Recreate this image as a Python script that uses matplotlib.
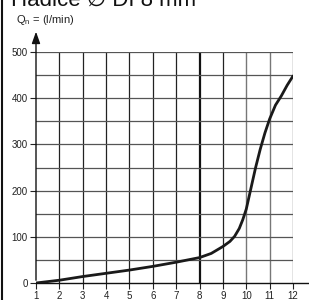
import numpy as np
import matplotlib
matplotlib.use('Agg')
import matplotlib.pyplot as plt

# values
pressure = [1, 2, 3, 4, 5, 6, 7, 8, 8.5, 9, 9.3, 9.5, 9.7, 9.85, 10, 10.2, 10.4, 10.6, 10.8, 11, 11.25, 11.5, 11.75, 12]
flow = [0, 6, 14, 21, 28, 36, 45, 55, 64, 79, 90, 101, 118, 137, 160, 205, 250, 290, 325, 355, 385, 405, 428, 448]
x_ticks = list(range(1, 13))
y_ticks = [0, 100, 200, 300, 400, 500]
title = 'Hadice \u2205 DI 8 mm'
y_label = 'Q$_\\mathregular{n}$ = (l/min)'

plt.rcParams['font.family'] = ['Liberation Sans', 'DejaVu Sans']

fig = plt.figure(figsize=(3.09, 3.0), dpi=100)
ax = fig.add_axes([36 / 309, 1 - 283 / 300, 257 / 309, 231 / 300])
ax.set_xlim(1, 12)
ax.set_ylim(0, 500)

# grid
for x in x_ticks[1:]:
    if x == 8:
        ax.axvline(x, color='#111111', lw=1.6, zorder=1)
    elif x >= 10:
        ax.axvline(x, color='#777777', lw=1.0, zorder=1)
    else:
        ax.axvline(x, color='#222222', lw=0.9, zorder=1)
for y in range(50, 501, 50):
    ax.axhline(y, color='#555555', lw=0.9, zorder=1)

ax.plot(pressure, flow, color='#1a1a1a', lw=2.0, solid_capstyle='round', zorder=3)

for s in ['top', 'right', 'bottom', 'left']:
    ax.spines[s].set_visible(False)

ax.set_xticks(x_ticks)
ax.set_yticks(y_ticks)
ax.tick_params(axis='both', labelsize=7, colors='#222222', length=4, width=0.8, pad=2)

# axes lines: x axis runs past 12, y axis with arrow
ax.annotate('', xy=(0, 1.1), xycoords='axes fraction', xytext=(0, 0),
            arrowprops=dict(arrowstyle='-|>,head_length=0.7,head_width=0.25', color='#111111', lw=1.0),
            annotation_clip=False)
ax.plot([0, 1.07], [0, 0], transform=ax.transAxes, color='#111111', lw=1.0, clip_on=False)

fig.add_artist(plt.Line2D([2 / 309, 2 / 309], [0, 1], color='#111111', lw=1.5))

fig.text(16 / 309, 1 - 23 / 300, y_label, fontsize=8, color='#222222', va='baseline')
fig.text(11 / 309, 1 - 6 / 300, title, fontsize=16, color='#111111', va='baseline',
         family=['Liberation Sans', 'DejaVu Sans'])

fig.savefig('out.png', dpi=100)
